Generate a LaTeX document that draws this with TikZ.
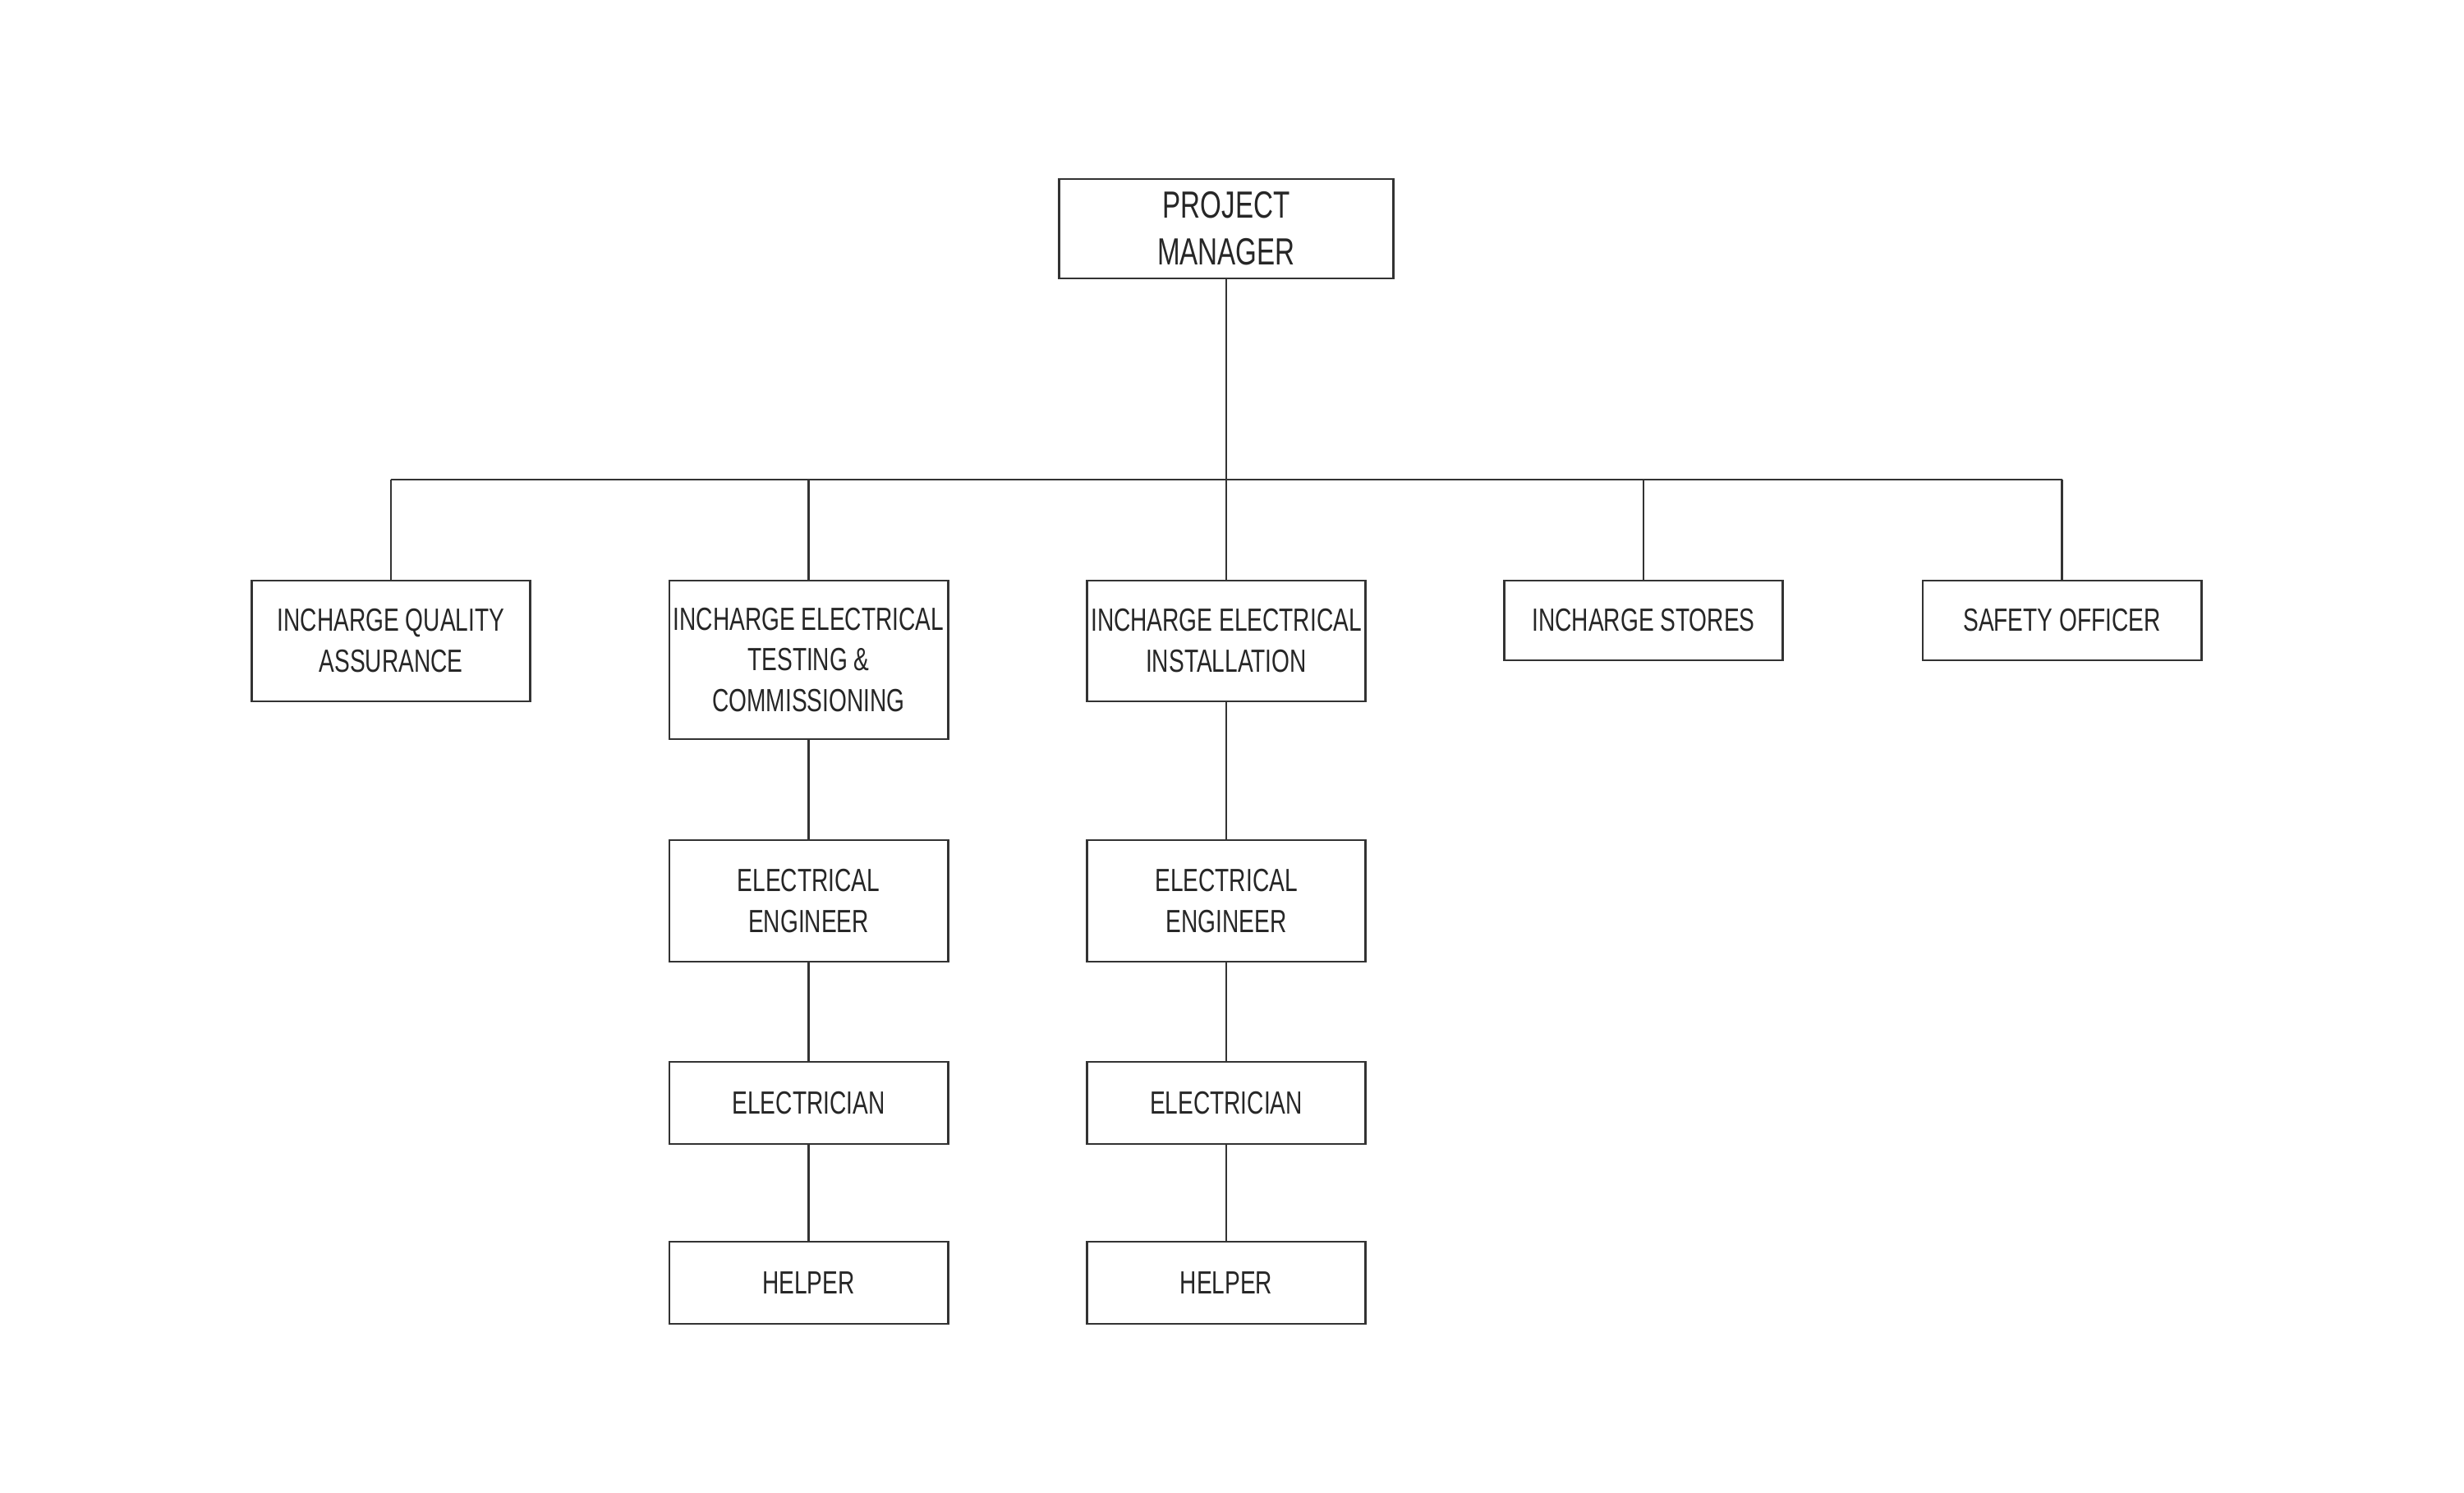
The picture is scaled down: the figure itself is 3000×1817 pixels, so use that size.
\documentclass[tikz,border=0pt]{standalone}
\usepackage{fontspec}
\setmainfont{Liberation Sans}[FakeStretch=0.72]
\begin{document}
\begin{tikzpicture}[x=0.01cm,y=-0.01cm,
  box/.style={draw=black!80,line width=0.8pt,fill=white,inner sep=0pt,align=center,
    minimum width=3.39cm,font=\fontsize{11.1}{14.2}\selectfont,text=black!85},
  link/.style={draw=black!80,line width=0.75pt}]
\useasboundingbox[fill=white] (0,0) rectangle (3000,1817);
\node[box,minimum width=4.06cm,minimum height=1.21cm,font=\fontsize{13.1}{16.2}\selectfont] (pm) at (1493,278.5) {PROJECT\\MANAGER};
\node[box,minimum height=1.47cm] (qa) at (476,780.5) {INCHARGE QUALITY\\ASSURANCE};
\node[box,minimum height=1.93cm] (tc) at (984.5,803.5) {INCHARGE ELECTRICAL\\TESTING \&\\COMMISSIONING};
\node[box,minimum height=1.47cm] (inst) at (1493,780.5) {INCHARGE ELECTRICAL\\INSTALLATION};
\node[box,minimum height=0.97cm] (stores) at (2001,755.5) {INCHARGE STORES};
\node[box,minimum height=0.97cm] (safety) at (2510.5,755.5) {SAFETY OFFICER};
\node[box,minimum height=1.48cm] (eea) at (984.5,1097) {ELECTRICAL\\ENGINEER};
\node[box,minimum height=1.48cm] (eeb) at (1493,1097) {ELECTRICAL\\ENGINEER};
\node[box,minimum height=1.00cm] (ela) at (984.5,1343) {ELECTRICIAN};
\node[box,minimum height=1.00cm] (elb) at (1493,1343) {ELECTRICIAN};
\node[box,minimum height=1.00cm] (hea) at (984.5,1562) {HELPER};
\node[box,minimum height=1.00cm] (heb) at (1493,1562) {HELPER};
\coordinate (bus) at (1493,584);
\draw[link] (pm.south) -- (bus);
\draw[link] (bus -| qa.north) -- (bus -| safety.north);
\foreach \n in {qa,tc,inst,stores,safety}
  \draw[link] (bus -| \n.north) -- (\n.north);
\draw[link] (tc.south) -- (eea.north);
\draw[link] (eea.south) -- (ela.north);
\draw[link] (ela.south) -- (hea.north);
\draw[link] (inst.south) -- (eeb.north);
\draw[link] (eeb.south) -- (elb.north);
\draw[link] (elb.south) -- (heb.north);
\end{tikzpicture}
\end{document}
